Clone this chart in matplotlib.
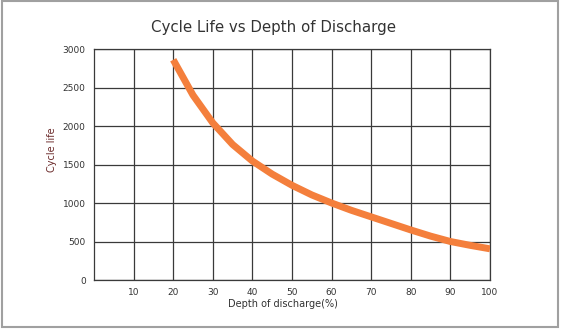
import matplotlib.pyplot as plt
from matplotlib.patches import Rectangle

# values
dod = [20, 25, 30, 35, 40, 45, 50, 55, 60, 65, 70, 75, 80, 85, 90, 95, 100]
cycles = [2860, 2400, 2040, 1760, 1545, 1375, 1230, 1105, 1000, 905, 820, 735, 650, 570, 500, 450, 405]

x_ticks = [10, 20, 30, 40, 50, 60, 70, 80, 90, 100]
y_ticks = [0, 500, 1000, 1500, 2000, 2500, 3000]

fig = plt.figure(figsize=(5.62, 3.30), dpi=100)
fig.patch.set_facecolor('white')
fig.patches.append(Rectangle((0.004, 0.008), 0.988, 0.988, transform=fig.transFigure,
                             fill=False, edgecolor='#a0a0a0', linewidth=1.5))

ax = fig.add_axes([0.1673, 0.1515, 0.7046, 0.70])
ax.plot(dod, cycles, color='#f47f3c', linewidth=5, solid_capstyle='butt',
        solid_joinstyle='round', zorder=3)

ax.set_xlim(0, 100)
ax.set_ylim(0, 3000)
ax.set_xticks(x_ticks)
ax.set_yticks(y_ticks)
ax.grid(True, color='#3a3a3a', linewidth=0.9)
ax.tick_params(length=0, labelsize=6.5, labelcolor='#333333', pad=6)
for s in ax.spines.values():
    s.set_color('#3a3a3a')
    s.set_linewidth(0.9)

fig.text(0.486, 0.918, 'Cycle Life vs Depth of Discharge', ha='center', va='center',
         fontsize=10.8, color='#333333')
fig.text(0.092, 0.545, 'Cycle life', rotation=90, ha='center', va='center',
         fontsize=7, color='#6b2a2a')
fig.text(0.504, 0.079, 'Depth of discharge(%)', ha='center', va='center',
         fontsize=7, color='#333333')

fig.savefig('out.png', dpi=100)
